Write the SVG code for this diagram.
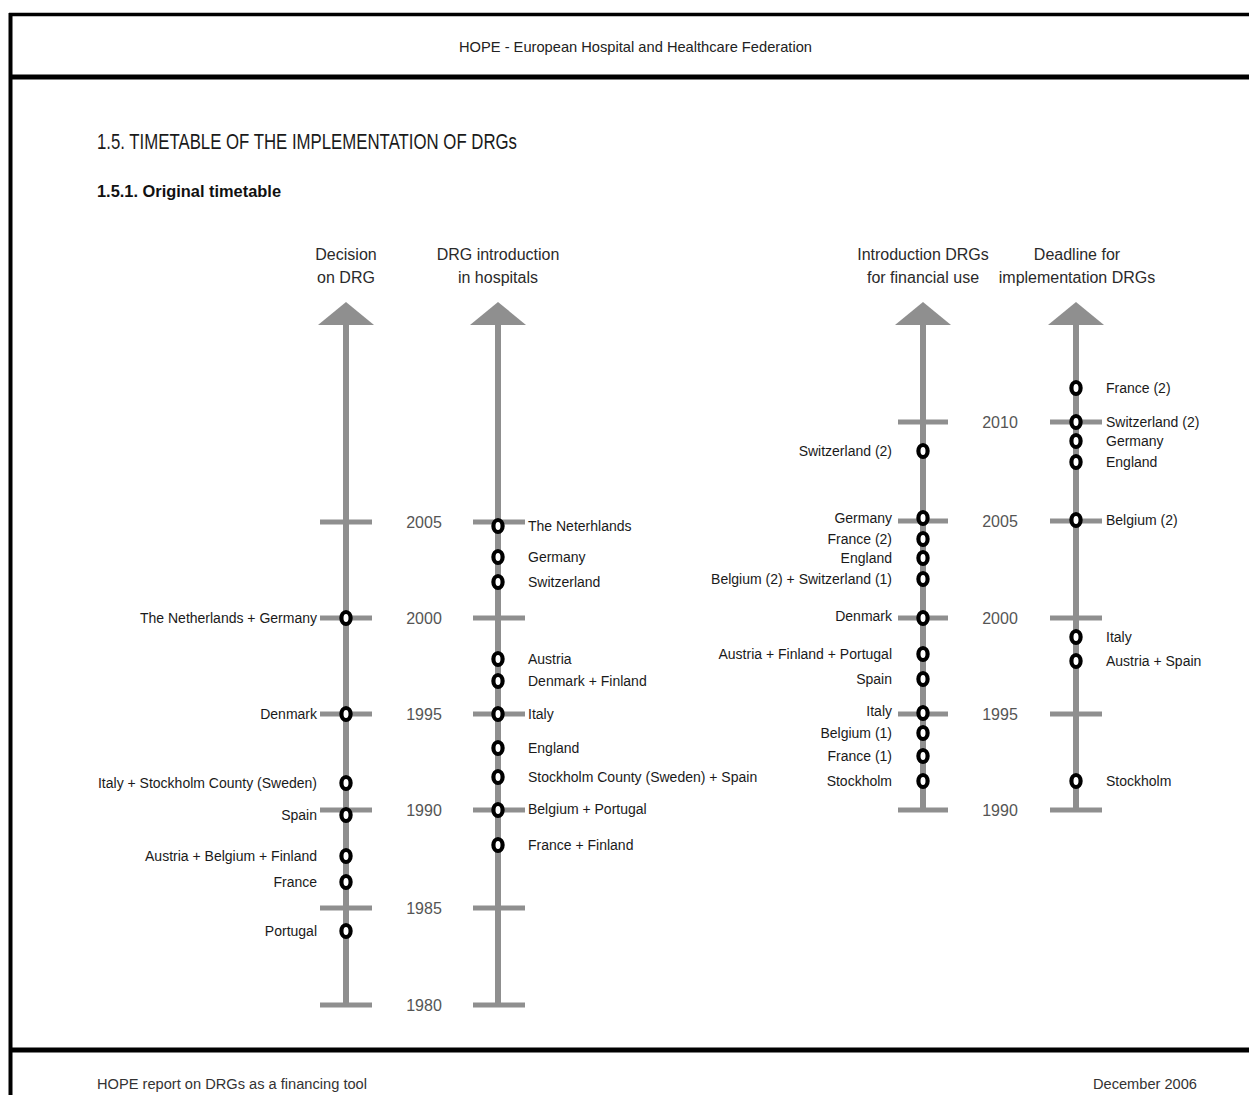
<svg xmlns="http://www.w3.org/2000/svg" width="1249" height="1095" viewBox="0 0 1249 1095">
<style>
.frame{stroke:#000;fill:none}
.axis{stroke:#8f8f8f;stroke-width:6;fill:none}
.tick{stroke:#8f8f8f;stroke-width:5;fill:none}
.head{fill:#8f8f8f;stroke:none}
.mk{fill:#fff;stroke:#000;stroke-width:4.2}
text{font-family:"Liberation Sans",Arial,sans-serif}
.lbl{font-size:14px;fill:#1a1a1a}
.yr{font-size:16px;fill:#555;text-anchor:middle}
.ttl{font-size:16px;fill:#2a2a2a;text-anchor:middle}
.end{text-anchor:end}
</style>
<rect width="1249" height="1095" fill="#fff"/>
<g id="frame">
<line class="frame" x1="9" y1="14.5" x2="1249" y2="14.5" stroke-width="3.5"/>
<line class="frame" x1="10.5" y1="13" x2="10.5" y2="1095" stroke-width="4"/>
<line class="frame" x1="9" y1="77" x2="1249" y2="77" stroke-width="5"/>
<line class="frame" x1="9" y1="1050" x2="1249" y2="1050" stroke-width="5"/>
</g>
<g id="page-text">
<text x="635.5" y="52" font-size="15" fill="#222" text-anchor="middle" textLength="353" lengthAdjust="spacingAndGlyphs">HOPE - European Hospital and Healthcare Federation</text>
<text x="97" y="149" font-size="22" fill="#1a1a1a" textLength="420" lengthAdjust="spacingAndGlyphs">1.5. TIMETABLE OF THE IMPLEMENTATION OF DRGs</text>
<text x="97" y="197" font-size="16" font-weight="bold" fill="#111" textLength="184" lengthAdjust="spacingAndGlyphs">1.5.1. Original timetable</text>
<text x="97" y="1089" font-size="14" fill="#333" textLength="270" lengthAdjust="spacingAndGlyphs">HOPE report on DRGs as a financing tool</text>
<text x="1197" y="1089" font-size="14" fill="#333" text-anchor="end" textLength="104" lengthAdjust="spacingAndGlyphs">December 2006</text>
</g>
<g id="connectors">
<line class="axis" x1="346" y1="320" x2="346" y2="1005"/>
<line class="axis" x1="498" y1="320" x2="498" y2="1005"/>
<line class="axis" x1="923" y1="320" x2="923" y2="810"/>
<line class="axis" x1="1076" y1="320" x2="1076" y2="810"/>
</g>
<g id="axis-decision">
<polygon class="head" points="346,302 318,325 374,325"/>
<path class="tick" d="M320 522H372M320 618H372M320 714H372M320 810H372M320 908H372M320 1005H372"/>
<text class="ttl" x="346" y="260">Decision</text>
<text class="ttl" x="346" y="283">on DRG</text>
</g>
<g id="axis-introduction">
<polygon class="head" points="498,302 470,325 526,325"/>
<path class="tick" d="M473 522H525M473 618H525M473 714H525M473 810H525M473 908H525M473 1005H525"/>
<text class="ttl" x="498" y="260" font-size="15">DRG introduction</text>
<text class="ttl" x="498" y="283" font-size="15">in hospitals</text>
</g>
<g id="years-left">
<text class="yr" x="424" y="528">2005</text>
<text class="yr" x="424" y="624">2000</text>
<text class="yr" x="424" y="720">1995</text>
<text class="yr" x="424" y="816">1990</text>
<text class="yr" x="424" y="914">1985</text>
<text class="yr" x="424" y="1011">1980</text>
</g>
<g id="axis-financial">
<polygon class="head" points="923,302 895,325 951,325"/>
<path class="tick" d="M898 422H948M898 521H948M898 618H948M898 714H948M898 810H948"/>
<text class="ttl" x="923" y="260" font-size="15">Introduction DRGs</text>
<text class="ttl" x="923" y="283" font-size="15">for financial use</text>
</g>
<g id="axis-deadline">
<polygon class="head" points="1076,302 1048,325 1104,325"/>
<path class="tick" d="M1050 422H1102M1050 521H1102M1050 618H1102M1050 714H1102M1050 810H1102"/>
<text class="ttl" x="1077" y="260" font-size="15">Deadline for</text>
<text class="ttl" x="1077" y="283" font-size="15">implementation DRGs</text>
</g>
<g id="years-right">
<text class="yr" x="1000" y="428">2010</text>
<text class="yr" x="1000" y="527">2005</text>
<text class="yr" x="1000" y="624">2000</text>
<text class="yr" x="1000" y="720">1995</text>
<text class="yr" x="1000" y="816">1990</text>
</g>
<g id="events-decision">
<ellipse class="mk" cx="346" cy="618" rx="4.6" ry="6"/><text class="lbl end" x="317" y="623">The Netherlands + Germany</text>
<ellipse class="mk" cx="346" cy="714" rx="4.6" ry="6"/><text class="lbl end" x="317" y="719">Denmark</text>
<ellipse class="mk" cx="346" cy="783" rx="4.6" ry="6"/><text class="lbl end" x="317" y="788">Italy + Stockholm County (Sweden)</text>
<ellipse class="mk" cx="346" cy="815" rx="4.6" ry="6"/><text class="lbl end" x="317" y="820">Spain</text>
<ellipse class="mk" cx="346" cy="856" rx="4.6" ry="6"/><text class="lbl end" x="317" y="861">Austria + Belgium + Finland</text>
<ellipse class="mk" cx="346" cy="882" rx="4.6" ry="6"/><text class="lbl end" x="317" y="887">France</text>
<ellipse class="mk" cx="346" cy="931" rx="4.6" ry="6"/><text class="lbl end" x="317" y="936">Portugal</text>
</g>
<g id="events-introduction">
<ellipse class="mk" cx="498" cy="526" rx="4.6" ry="6"/><text class="lbl" x="528" y="531">The Neterhlands</text>
<ellipse class="mk" cx="498" cy="557" rx="4.6" ry="6"/><text class="lbl" x="528" y="562">Germany</text>
<ellipse class="mk" cx="498" cy="582" rx="4.6" ry="6"/><text class="lbl" x="528" y="587">Switzerland</text>
<ellipse class="mk" cx="498" cy="659" rx="4.6" ry="6"/><text class="lbl" x="528" y="664">Austria</text>
<ellipse class="mk" cx="498" cy="681" rx="4.6" ry="6"/><text class="lbl" x="528" y="686">Denmark + Finland</text>
<ellipse class="mk" cx="498" cy="714" rx="4.6" ry="6"/><text class="lbl" x="528" y="719">Italy</text>
<ellipse class="mk" cx="498" cy="748" rx="4.6" ry="6"/><text class="lbl" x="528" y="753">England</text>
<ellipse class="mk" cx="498" cy="777" rx="4.6" ry="6"/><text class="lbl" x="528" y="782">Stockholm County (Sweden) + Spain</text>
<ellipse class="mk" cx="498" cy="810" rx="4.6" ry="6"/><text class="lbl" x="528" y="814">Belgium + Portugal</text>
<ellipse class="mk" cx="498" cy="845" rx="4.6" ry="6"/><text class="lbl" x="528" y="850">France + Finland</text>
</g>
<g id="events-financial">
<ellipse class="mk" cx="923" cy="451" rx="4.6" ry="6"/><text class="lbl end" x="892" y="456">Switzerland (2)</text>
<ellipse class="mk" cx="923" cy="518" rx="4.6" ry="6"/><text class="lbl end" x="892" y="523">Germany</text>
<ellipse class="mk" cx="923" cy="539" rx="4.6" ry="6"/><text class="lbl end" x="892" y="544">France (2)</text>
<ellipse class="mk" cx="923" cy="558" rx="4.6" ry="6"/><text class="lbl end" x="892" y="563">England</text>
<ellipse class="mk" cx="923" cy="579" rx="4.6" ry="6"/><text class="lbl end" x="892" y="584">Belgium (2) + Switzerland (1)</text>
<ellipse class="mk" cx="923" cy="618" rx="4.6" ry="6"/><text class="lbl end" x="892" y="621">Denmark</text>
<ellipse class="mk" cx="923" cy="654" rx="4.6" ry="6"/><text class="lbl end" x="892" y="659">Austria + Finland + Portugal</text>
<ellipse class="mk" cx="923" cy="679" rx="4.6" ry="6"/><text class="lbl end" x="892" y="684">Spain</text>
<ellipse class="mk" cx="923" cy="713" rx="4.6" ry="6"/><text class="lbl end" x="892" y="716">Italy</text>
<ellipse class="mk" cx="923" cy="733" rx="4.6" ry="6"/><text class="lbl end" x="892" y="738">Belgium (1)</text>
<ellipse class="mk" cx="923" cy="756" rx="4.6" ry="6"/><text class="lbl end" x="892" y="761">France (1)</text>
<ellipse class="mk" cx="923" cy="781" rx="4.6" ry="6"/><text class="lbl end" x="892" y="786">Stockholm</text>
</g>
<g id="events-deadline">
<ellipse class="mk" cx="1076" cy="388" rx="4.6" ry="6"/><text class="lbl" x="1106" y="393">France (2)</text>
<ellipse class="mk" cx="1076" cy="422" rx="4.6" ry="6"/><text class="lbl" x="1106" y="427">Switzerland (2)</text>
<ellipse class="mk" cx="1076" cy="441" rx="4.6" ry="6"/><text class="lbl" x="1106" y="446">Germany</text>
<ellipse class="mk" cx="1076" cy="462" rx="4.6" ry="6"/><text class="lbl" x="1106" y="467">England</text>
<ellipse class="mk" cx="1076" cy="520" rx="4.6" ry="6"/><text class="lbl" x="1106" y="525">Belgium (2)</text>
<ellipse class="mk" cx="1076" cy="637" rx="4.6" ry="6"/><text class="lbl" x="1106" y="642">Italy</text>
<ellipse class="mk" cx="1076" cy="661" rx="4.6" ry="6"/><text class="lbl" x="1106" y="666">Austria + Spain</text>
<ellipse class="mk" cx="1076" cy="781" rx="4.6" ry="6"/><text class="lbl" x="1106" y="786">Stockholm</text>
</g>
</svg>
